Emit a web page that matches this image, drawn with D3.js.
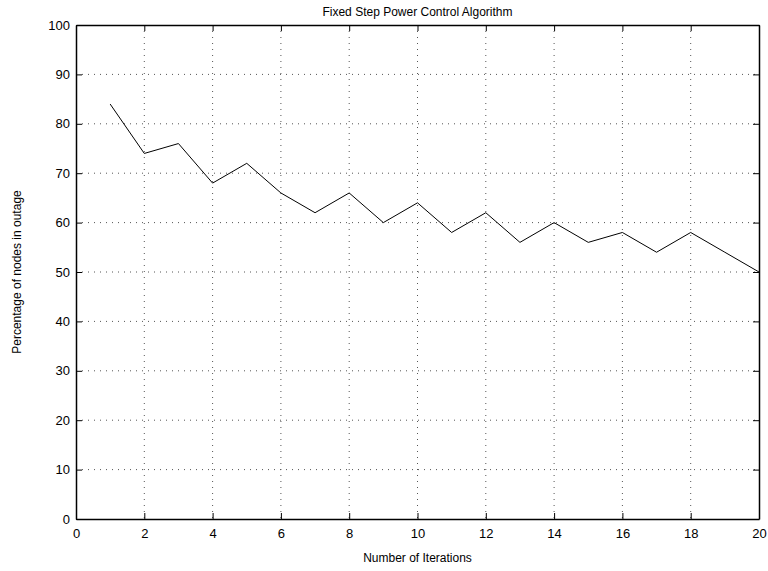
<!DOCTYPE html>
<html lang="en">
<head>
<meta charset="UTF-8">
<title>Fixed Step Power Control Algorithm</title>
<script src="https://cdn.jsdelivr.net/npm/d3@7"></script>
<style>
  body { margin: 0; background: #fff; }
  svg { font-family: "Liberation Sans", Arial, sans-serif; }
</style>
</head>
<body>
<svg id="chart" width="768" height="571"></svg>
<script>
// data
const iterations = [1, 2, 3, 4, 5, 6, 7, 8, 9, 10, 11, 12, 13, 14, 15, 16, 17, 18, 19, 20];
const outagePct  = [84, 74, 76, 68, 72, 66, 62, 66, 60, 64, 58, 62, 56, 60, 56, 58, 54, 58, 54, 50];
const xTicks = [0, 2, 4, 6, 8, 10, 12, 14, 16, 18, 20];
const yTicks = [0, 10, 20, 30, 40, 50, 60, 70, 80, 90, 100];

const margin = { top: 25, right: 9, bottom: 52, left: 76 };
const width = 768 - margin.left - margin.right;
const height = 571 - margin.top - margin.bottom;

const svg = d3.select("#chart");
const g = svg.append("g").attr("transform", `translate(${margin.left},${margin.top})`);

const x = d3.scaleLinear().domain([0, 20]).range([0, width]);
const y = d3.scaleLinear().domain([0, 100]).range([height, 0]);

// grid
g.append("g").selectAll("line").data(xTicks.slice(1, -1)).enter().append("line")
  .attr("x1", d => x(d)).attr("x2", d => x(d))
  .attr("y1", 0).attr("y2", height)
  .attr("stroke", "#555").attr("stroke-width", 1)
  .attr("stroke-dasharray", "1,5");
g.append("g").selectAll("line").data(yTicks.slice(1, -1)).enter().append("line")
  .attr("x1", 0).attr("x2", width)
  .attr("y1", d => y(d)).attr("y2", d => y(d))
  .attr("stroke", "#555").attr("stroke-width", 1)
  .attr("stroke-dasharray", "1,5");

// axes (ticks inward, matlab style)
const xAxis = g.append("g").attr("transform", `translate(0,${height})`)
  .call(d3.axisBottom(x).tickValues(xTicks).tickSizeInner(-6).tickSizeOuter(0).tickPadding(10));
const yAxis = g.append("g")
  .call(d3.axisLeft(y).tickValues(yTicks).tickSizeInner(-6).tickSizeOuter(0).tickPadding(6));
g.append("g").call(d3.axisTop(x).tickValues(xTicks).tickSizeInner(-6).tickSizeOuter(0).tickFormat(""));
g.append("g").attr("transform", `translate(${width},0)`)
  .call(d3.axisRight(y).tickValues(yTicks).tickSizeInner(-6).tickSizeOuter(0).tickFormat(""));

g.selectAll(".domain").attr("stroke", "#000").attr("stroke-width", 1.5);
g.selectAll(".tick line").attr("stroke", "#000");
g.selectAll(".tick text").attr("font-size", "13px").attr("fill", "#000")
  .attr("font-family", "\"Liberation Sans\", Arial, sans-serif");

// line
const line = d3.line().x((d, i) => x(iterations[i])).y(d => y(d));
g.append("path").datum(outagePct)
  .attr("d", line)
  .attr("fill", "none")
  .attr("stroke", "#000")
  .attr("stroke-width", 1);

// title and labels
svg.append("text")
  .attr("x", margin.left + width / 2).attr("y", 16)
  .attr("text-anchor", "middle").attr("font-size", "12px")
  .text("Fixed Step Power Control Algorithm");

svg.append("text")
  .attr("x", margin.left + width / 2).attr("y", 562)
  .attr("text-anchor", "middle").attr("font-size", "12px")
  .text("Number of Iterations");

svg.append("text")
  .attr("transform", `translate(21,${margin.top + height / 2}) rotate(-90)`)
  .attr("text-anchor", "middle").attr("font-size", "12px")
  .text("Percentage of nodes in outage");
</script>
</body>
</html>
